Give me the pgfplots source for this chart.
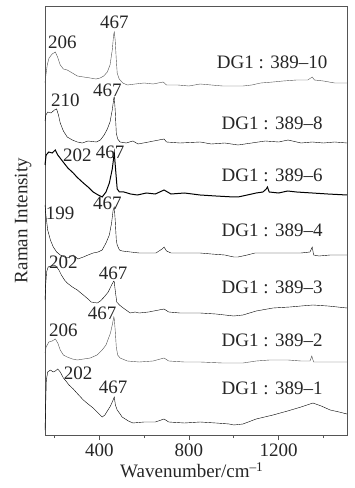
\documentclass[border=0pt]{standalone}
\usepackage{fontspec}
\setmainfont{Liberation Serif}
\usepackage{pgfplots}
\pgfplotsset{compat=1.18}
\definecolor{ln}{HTML}{505050}
\definecolor{ax}{HTML}{555555}
\newcommand{\fs}{\fontsize{19}{23}\selectfont}
\begin{document}
\begin{tikzpicture}
\useasboundingbox (0,0) rectangle (354pt,488pt);
\begin{axis}[
  at={(45pt,53pt)}, anchor=south west,
  scale only axis, width=302pt, height=429pt,
  xmin=158, xmax=1505, ymin=0, ymax=429,
  xtick={400,800,1200}, minor xtick={200,600,1000,1400},
  xtick pos=bottom, tick align=outside,
  major tick length=5pt, minor tick length=3pt,
  ytick=\empty,
  axis line style={ax, line width=0.9pt},
  every tick/.style={ax, line width=0.8pt},
  /pgf/number format/assume math mode=true,
  /pgf/number format/1000 sep={},
  xticklabel style={font=\fs, text=black!85},
  xlabel={Wavenumber/cm\textsuperscript{--1}},
  xlabel style={font=\fs, text=black!85, at={(axis description cs:0.486,-0.082)}, anchor=center},
  ylabel={Raman Intensity},
  ylabel style={font=\fs, text=black!85, at={(axis description cs:-0.072,0.5)}, anchor=center},
  cycle list={{ln, solid, line width=1pt, mark=none, line join=round}},
  clip=false,
]
% DG1:389-10
\addplot coordinates {(158,352)(162,360)(168,370)(176,377)(190,381)(204,383)(214,378)(226,370)(240,366)(257,365)(280,362)(302,359)(330,358)(360,357)(385,356)(404,357)(420,359)(436,363)(448,370)(458,385)(464,400)(467,403)(471,395)(476,375)(480,362)(489,356)(505,352)(525,350)(560,351)(600,352)(640,351)(685,353)(700,350)(750,350)(800,349)(850,351)(900,350)(950,349)(1000,349)(1041,349)(1080,350)(1120,352)(1175,353)(1220,354)(1280,355)(1330,355)(1350,358)(1360,355)(1400,354)(1450,352)(1505,352)};
% DG1:389-8
\addplot coordinates {(158,314)(162,320)(170,323)(185,322)(200,325)(210,326)(218,320)(226,312)(240,304)(257,298)(280,295)(302,293)(324,292)(350,294)(387,293)(405,295)(422,300)(436,306)(448,313)(458,325)(465,337)(467,338)(471,325)(476,302)(482,296)(493,293)(520,292)(550,294)(573,291)(620,293)(689,296)(700,293)(760,292)(850,293)(900,291)(960,292)(1019,290)(1080,292)(1140,294)(1200,293)(1242,295)(1300,292)(1350,293)(1400,292)(1450,293)(1505,292)};
% DG1:389-6
\addplot coordinates {(158,270)(163,280)(175,283)(190,282)(204,285)(215,280)(239,273)(260,267)(284,262)(300,258)(329,252)(350,248)(373,243)(395,240)(413,238)(430,243)(445,252)(458,266)(467,282)(472,268)(480,246)(490,243)(510,243)(540,241)(570,240)(610,242)(650,241)(689,245)(720,241)(780,242)(850,240)(920,239)(1000,238)(1019,238)(1060,240)(1100,242)(1130,243)(1145,246)(1150,248)(1158,243)(1200,242)(1240,244)(1280,243)(1350,242)(1420,241)(1505,240)};
% DG1:389-4
\addplot coordinates {(158,230)(162,220)(170,205)(182,195)(195,188)(210,183)(226,180)(245,178)(257,177)(284,180)(305,176)(329,178)(350,180)(373,182)(395,183)(413,185)(430,192)(445,200)(455,212)(462,225)(467,228)(471,215)(476,195)(480,190)(490,185)(502,184)(540,183)(578,182)(620,182)(653,182)(680,186)(689,188)(700,184)(720,182)(780,182)(850,182)(900,181)(960,180)(1000,178)(1019,178)(1060,180)(1095,182)(1150,182)(1242,182)(1300,182)(1340,183)(1350,188)(1356,180)(1380,179)(1430,180)(1505,180)};
% DG1:389-3
\addplot coordinates {(158,135)(161,150)(165,163)(172,168)(185,169)(200,170)(210,168)(220,165)(231,160)(245,155)(257,152)(280,148)(302,145)(329,140)(350,136)(364,133)(391,132)(405,134)(422,138)(440,143)(455,150)(465,154)(467,153)(471,145)(478,133)(490,130)(507,127)(538,122)(560,123)(578,122)(620,123)(689,126)(710,123)(760,122)(850,122)(920,121)(1000,119)(1041,120)(1100,124)(1175,127)(1250,128)(1300,129)(1353,130)(1420,129)(1505,127)};
% DG1:389-2
\addplot coordinates {(158,82)(163,88)(175,93)(190,94)(204,96)(215,92)(226,85)(240,80)(257,78)(280,76)(302,75)(330,76)(360,77)(390,80)(413,85)(430,90)(440,96)(450,102)(458,110)(465,118)(467,116)(471,105)(476,88)(482,80)(493,77)(525,74)(578,73)(640,74)(689,77)(710,74)(780,73)(850,73)(950,72)(1041,72)(1100,74)(1160,75)(1242,75)(1300,74)(1340,74)(1348,79)(1356,73)(1400,73)(1505,73)};
% DG1:389-1
\addplot coordinates {(158,5)(161,30)(164,55)(170,63)(182,65)(195,63)(204,64)(215,66)(226,63)(240,57)(248,55)(265,50)(284,46)(300,42)(329,35)(350,31)(373,27)(395,22)(413,18)(425,20)(436,24)(450,29)(460,34)(467,38)(472,30)(480,25)(490,22)(502,18)(530,14)(550,12)(600,13)(650,13)(689,16)(710,13)(780,12)(850,13)(920,12)(980,11)(1000,10)(1041,11)(1100,16)(1175,20)(1240,24)(1300,28)(1353,32)(1390,29)(1430,25)(1470,23)(1505,21)};
% peak labels
\begin{scope}[every node/.style={font=\fs, text=black!85, inner sep=0pt}]
\node at (axis cs:235,393) {206};
\node at (axis cs:467,413) {467};
\node at (axis cs:249,335) {210};
\node at (axis cs:436,345) {467};
\node at (axis cs:302,280) {202};
\node at (axis cs:449,283) {467};
\node at (axis cs:226,222) {199};
\node at (axis cs:436,232) {467};
\node at (axis cs:240,173) {202};
\node at (axis cs:462,162) {467};
\node at (axis cs:240,105) {206};
\node at (axis cs:413,122) {467};
\node at (axis cs:306,62) {202};
\node at (axis cs:462,48) {467};
\node at (axis cs:1171,373) {DG1 : 389--10};
\node at (axis cs:1171,312) {DG1 : 389--8};
\node at (axis cs:1171,260) {DG1 : 389--6};
\node at (axis cs:1171,205) {DG1 : 389--4};
\node at (axis cs:1171,148) {DG1 : 389--3};
\node at (axis cs:1171,95) {DG1 : 389--2};
\node at (axis cs:1171,47) {DG1 : 389--1};
\end{scope}
\end{axis}
\end{tikzpicture}
\end{document}
